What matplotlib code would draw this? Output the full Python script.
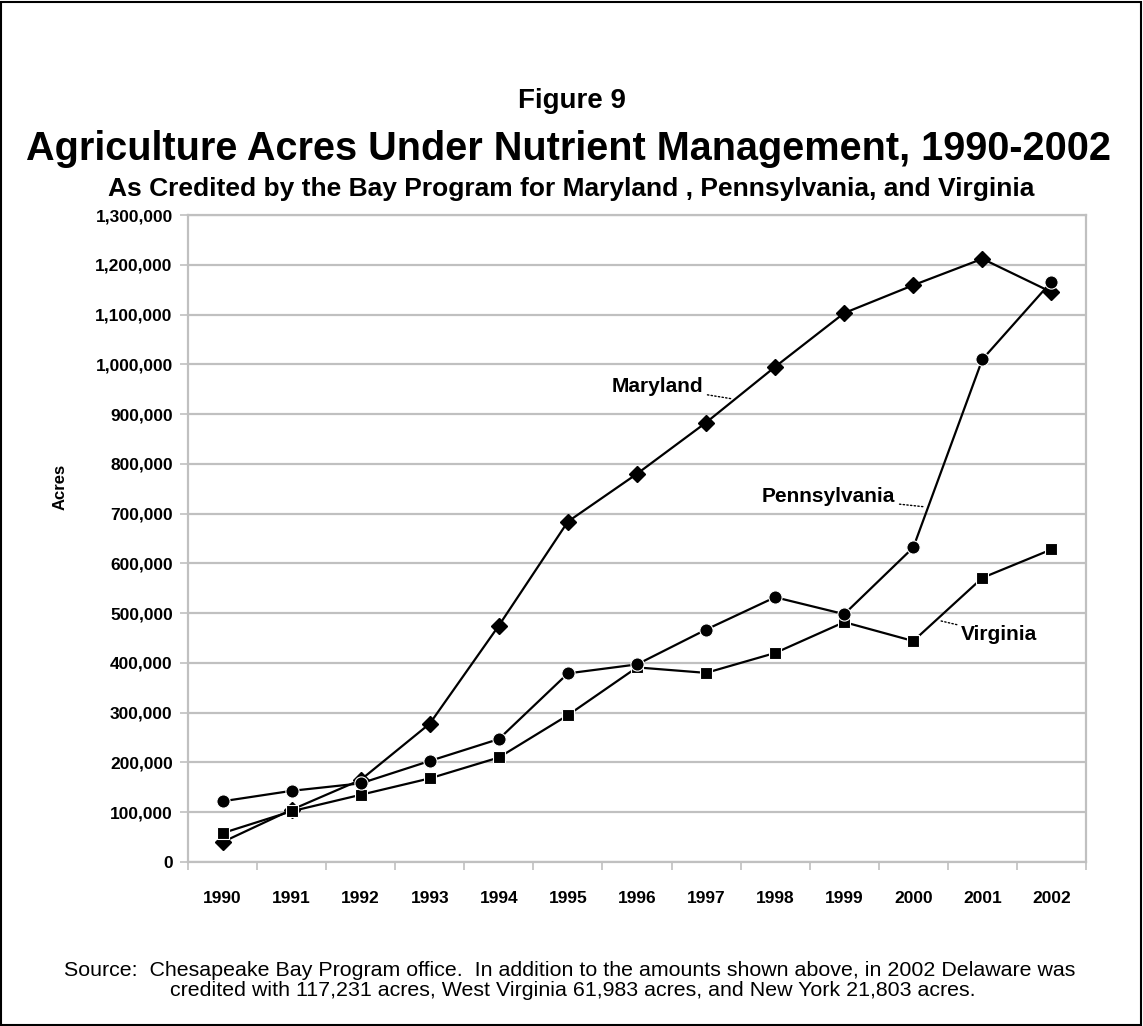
import matplotlib
matplotlib.use("Agg")
import matplotlib.pyplot as plt
from matplotlib.patches import Rectangle
from matplotlib.ticker import FuncFormatter, FixedLocator

plt.rcParams['font.family'] = ['Liberation Sans', 'DejaVu Sans']

years = ['1990', '1991', '1992', '1993', '1994', '1995', '1996',
         '1997', '1998', '1999', '2000', '2001', '2002']
maryland = [40000, 105000, 165000, 278000, 475000, 684000, 780000,
            883000, 995000, 1103000, 1159000, 1212000, 1145000]
pennsylvania = [122000, 143000, 158000, 203000, 247000, 379000, 397000,
                467000, 532000, 498000, 632000, 1010000, 1166000]
virginia = [58000, 102000, 135000, 168000, 210000, 295000, 391000,
            380000, 420000, 482000, 444000, 571000, 628000]
yticks = list(range(0, 1300001, 100000))

W, H = 1143, 1026
fig = plt.figure(figsize=(W / 100, H / 100), dpi=100)
ax = fig.add_axes([188 / W, 1 - 862 / H, (1086 - 188) / W, (862 - 215) / H])

x = list(range(len(years)))
lw = 1.6
ax.plot(x, maryland, color='black', lw=lw, marker='D', ms=8, mfc='black',
        mec='black', zorder=3)
ax.plot(x, virginia, color='black', lw=lw, marker='s', ms=8.5, mfc='black',
        mec='white', mew=0.8, zorder=4)
ax.plot(x, pennsylvania, color='black', lw=lw, marker='o', ms=9.5, mfc='black',
        mec='white', mew=0.8, zorder=5)

ax.set_xlim(-0.5, len(years) - 0.5)
ax.set_ylim(0, 1300000)
ax.set_yticks(yticks)
ax.yaxis.set_major_formatter(FuncFormatter(lambda v, p: f"{int(v):,}"))
ax.grid(axis='y', color='#c0c0c0', lw=1.6, zorder=0)
ax.set_axisbelow(True)

ax.xaxis.set_major_locator(FixedLocator([i - 0.5 for i in range(len(years) + 1)]))
ax.xaxis.set_minor_locator(FixedLocator(x))
ax.set_xticklabels([])
ax.set_xticklabels(years, minor=True)
ax.tick_params(axis='x', which='major', length=6, width=1.2, color='#c0c0c0',
               direction='out')
ax.tick_params(axis='x', which='minor', length=0, pad=21, labelsize=12.5)
ax.tick_params(axis='y', length=6, width=1.2, color='#c0c0c0', pad=5,
               labelsize=12.5)
for lab in ax.get_xticklabels(minor=True) + ax.get_yticklabels():
    lab.set_fontweight('bold')
for s in ax.spines.values():
    s.set_color('#c0c0c0')
    s.set_linewidth(1.6)

# series labels with dotted leaders
akw = dict(fontsize=15, fontweight='bold', va='center')
ax.annotate('Maryland', xy=(7.36, 931000), xytext=(6.96, 955000), ha='right',
            arrowprops=dict(arrowstyle='-', ls=':', lw=1, color='black',
                            shrinkA=1, shrinkB=0), **akw)
ax.annotate('Pennsylvania', xy=(10.14, 714000), xytext=(9.74, 734000), ha='right',
            arrowprops=dict(arrowstyle='-', ls=':', lw=1, color='black',
                            shrinkA=1, shrinkB=0), **akw)
ax.annotate('Virginia', xy=(10.38, 485000), xytext=(10.69, 457000), ha='left',
            arrowprops=dict(arrowstyle='-', ls=':', lw=1, color='black',
                            shrinkA=1, shrinkB=0), **akw)

fig.text(60 / W, 1 - 487 / H, 'Acres', rotation=90, ha='center', va='center',
         fontsize=12, fontweight='bold')

fig.text(0.5, 1 - 101 / H, 'Figure 9', ha='center', va='center',
         fontsize=20, fontweight='bold')
fig.text(568 / W, 1 - 149 / H, 'Agriculture Acres Under Nutrient Management, 1990-2002',
         ha='center', va='center', fontsize=28.5, fontweight='bold')
fig.text(571 / W, 1 - 189 / H,
         'As Credited by the Bay Program for Maryland , Pennsylvania, and Virginia',
         ha='center', va='center', fontsize=19, fontweight='bold')

fig.text(569.5 / W, 1 - 970 / H,
         'Source:  Chesapeake Bay Program office.  In addition to the amounts shown above, in 2002 Delaware was',
         ha='center', va='center', fontsize=15.4)
fig.text(572.5 / W, 1 - 991 / H,
         'credited with 117,231 acres, West Virginia 61,983 acres, and New York 21,803 acres.',
         ha='center', va='center', fontsize=15.4)

fig.add_artist(Rectangle((1 / W, 1 / H), 1 - 3 / W, 1 - 3 / H,
                         transform=fig.transFigure, fill=False,
                         edgecolor='black', lw=1.5))

fig.savefig('out.png', dpi=100)
